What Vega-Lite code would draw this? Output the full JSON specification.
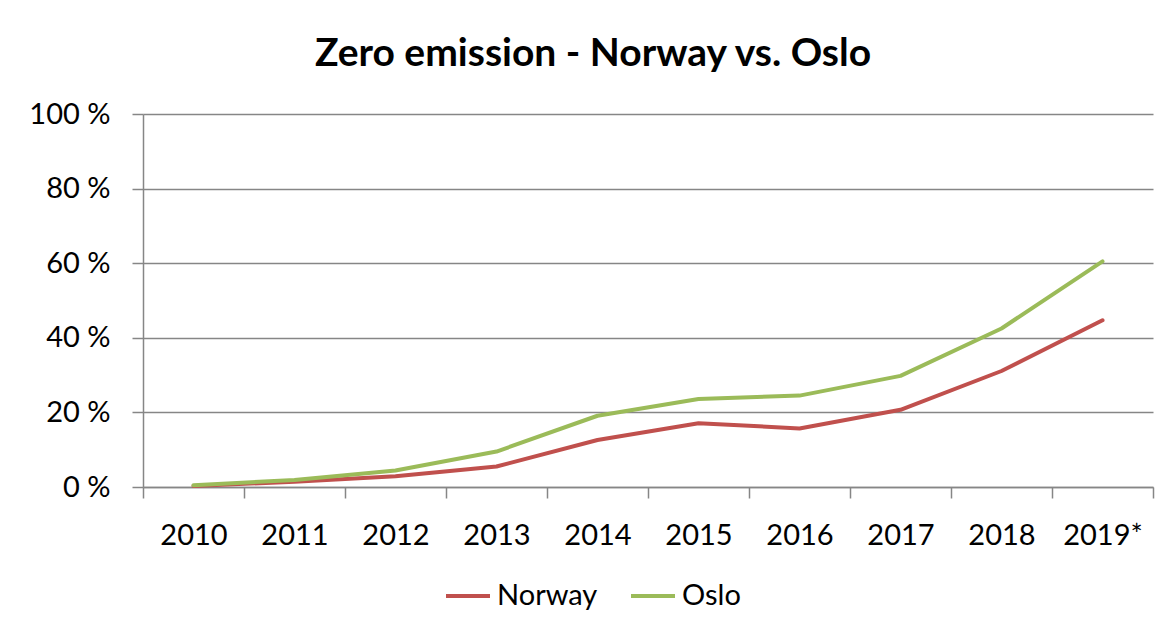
{
  "$schema": "https://vega.github.io/schema/vega-lite/v6.json",
  "width": 1010,
  "height": 373,
  "autosize": {"type": "none"},
  "padding": {"left": 143, "top": 114, "right": 13, "bottom": 142},
  "background": "white",
  "title": {
    "text": "Zero emission - Norway vs. Oslo",
    "font": "Lato",
    "fontSize": 39,
    "fontWeight": "bold",
    "color": "#000000",
    "anchor": "middle",
    "dx": -55,
    "baseline": "alphabetic",
    "offset": -5
  },
  "data": {
    "values": [
      {"year": "2010", "series": "Norway", "share": 0.3},
      {"year": "2011", "series": "Norway", "share": 1.4},
      {"year": "2012", "series": "Norway", "share": 2.9},
      {"year": "2013", "series": "Norway", "share": 5.5},
      {"year": "2014", "series": "Norway", "share": 12.6},
      {"year": "2015", "series": "Norway", "share": 17.1},
      {"year": "2016", "series": "Norway", "share": 15.7},
      {"year": "2017", "series": "Norway", "share": 20.7},
      {"year": "2018", "series": "Norway", "share": 31.1},
      {"year": "2019*", "series": "Norway", "share": 44.7},
      {"year": "2010", "series": "Oslo", "share": 0.5},
      {"year": "2011", "series": "Oslo", "share": 1.9},
      {"year": "2012", "series": "Oslo", "share": 4.4},
      {"year": "2013", "series": "Oslo", "share": 9.5},
      {"year": "2014", "series": "Oslo", "share": 19.1},
      {"year": "2015", "series": "Oslo", "share": 23.6},
      {"year": "2016", "series": "Oslo", "share": 24.5},
      {"year": "2017", "series": "Oslo", "share": 29.8},
      {"year": "2018", "series": "Oslo", "share": 42.5},
      {"year": "2019*", "series": "Oslo", "share": 60.5}
    ]
  },
  "mark": {"type": "line", "strokeWidth": 4, "strokeCap": "round", "strokeJoin": "round"},
  "encoding": {
    "x": {
      "field": "year",
      "type": "ordinal",
      "sort": null,
      "scale": {"type": "band", "paddingInner": 0, "paddingOuter": 0},
      "axis": {
        "title": null,
        "labelAngle": 0,
        "tickBand": "extent",
        "tickSize": 11,
        "tickColor": "#868686",
        "tickWidth": 1.5,
        "domainColor": "#868686",
        "domainWidth": 1.5,
        "labelFont": "Lato",
        "labelFontSize": 29,
        "labelColor": "#000000",
        "labelBaseline": "alphabetic",
        "labelPadding": 46,
        "grid": false
      }
    },
    "y": {
      "field": "share",
      "type": "quantitative",
      "scale": {"domain": [0, 100], "nice": false},
      "axis": {
        "title": null,
        "values": [0, 20, 40, 60, 80, 100],
        "labelExpr": "format(datum.value, '.0f') + ' %'",
        "tickSize": 11,
        "tickColor": "#868686",
        "tickWidth": 1.5,
        "domainColor": "#868686",
        "domainWidth": 1.5,
        "grid": true,
        "gridColor": "#868686",
        "gridWidth": 1.5,
        "labelFont": "Lato",
        "labelFontSize": 29,
        "labelColor": "#000000",
        "labelPadding": 22,
        "labelBaseline": "middle"
      }
    },
    "color": {
      "field": "series",
      "type": "nominal",
      "scale": {"domain": ["Norway", "Oslo"], "range": ["#C0504D", "#9BBB59"]},
      "legend": {
        "title": null,
        "orient": "none",
        "direction": "horizontal",
        "legendX": 301,
        "legendY": 458,
        "symbolType": "stroke",
        "symbolSize": 1936,
        "symbolStrokeWidth": 4,
        "labelFont": "Lato",
        "labelFontSize": 29,
        "labelColor": "#000000",
        "labelOffset": 5,
        "columnPadding": 25,
        "padding": 0
      }
    }
  },
  "config": {
    "view": {"stroke": null}
  }
}
